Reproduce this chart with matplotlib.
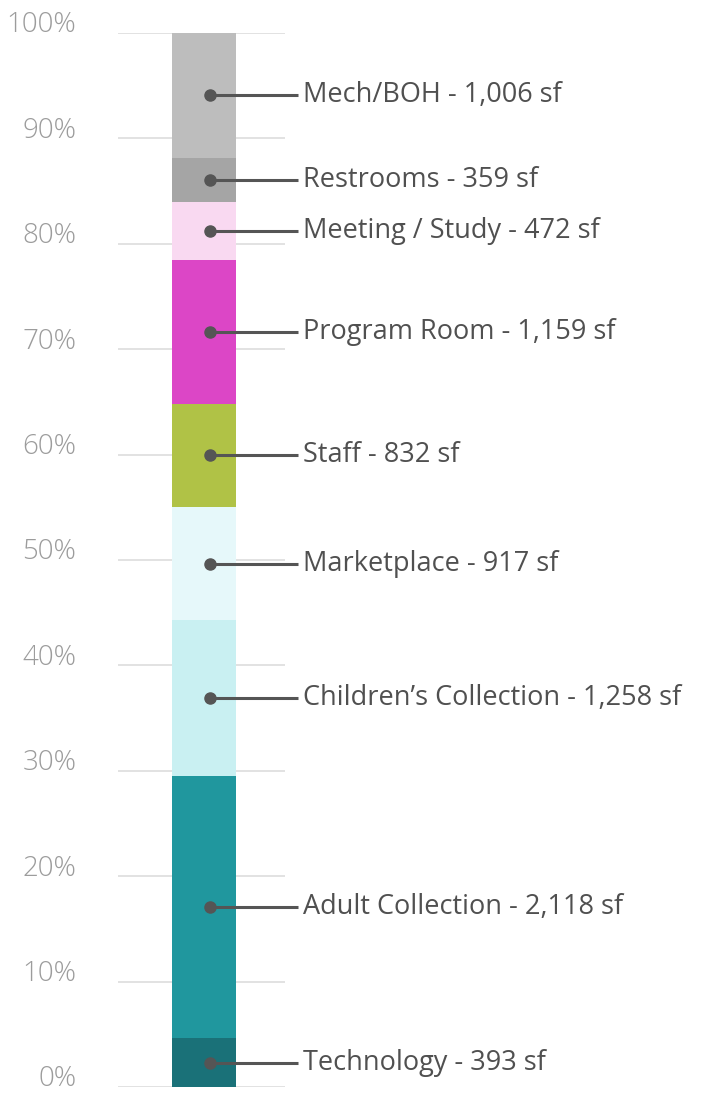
import numpy as np
import matplotlib
matplotlib.use("Agg")
import matplotlib.pyplot as plt

# Space program, bottom to top of the stack
spaces = ["Technology", "Adult Collection", "Children\u2019s Collection", "Marketplace",
          "Staff", "Program Room", "Meeting / Study", "Restrooms", "Mech/BOH"]
area_sf = [393, 2118, 1258, 917, 832, 1159, 472, 359, 1006]
colors = ["#1a7178", "#20979e", "#c9f0f2", "#e6f8fa", "#b0c246",
          "#dc46c6", "#f9d9f1", "#a5a5a5", "#bdbdbd"]
yticks = [0, 10, 20, 30, 40, 50, 60, 70, 80, 90, 100]

FONT = ["Open Sans", "DejaVu Sans"]

W, H = 712, 1093
fig = plt.figure(figsize=(W / 100, H / 100), dpi=100)
fig.patch.set_facecolor("white")

# axes box in pixel terms: gridlines run from x=118 to x=285, 0% at y=1087, 100% at y=33
ax = fig.add_axes([118 / W, (H - 1087) / H, (285 - 118) / W, (1087 - 33) / H])
ax.set_xlim(0, 1)
ax.set_ylim(0, 100)

pct = np.array(area_sf) / np.sum(area_sf) * 100
bottoms = np.concatenate([[0], np.cumsum(pct)[:-1]])

for t in yticks:
    ax.axhline(t, color="#e2e2e2", lw=1.4, zorder=0)
    # percent labels sit a little above their gridline
    ax.annotate(f"{t}%", xy=(0, t), xycoords=("axes fraction", "data"),
                xytext=(-30, 5.5), textcoords="offset points",
                ha="right", va="center", fontsize=20, color="#9c9c9c",
                family=FONT, fontweight="light", annotation_clip=False)

bar_x = (204 - 118) / 167
bar_w = 64 / 167
ax.bar([bar_x] * len(pct), pct, bottom=bottoms, width=bar_w, color=colors,
       linewidth=0, zorder=2)

# leader lines from the middle of each segment out to its label
dot_x = (210 - 118) / 167
line_end = (298 - 118) / 167
text_x = (303 - 118) / 167
for name, sf, b, p in zip(spaces, area_sf, bottoms, pct):
    yc = b + p / 2
    ax.plot([dot_x, line_end], [yc, yc], color="#555555", lw=2.2,
            solid_capstyle="butt", zorder=3, clip_on=False)
    ax.plot(dot_x, yc, "o", color="#555555", ms=8, zorder=4, clip_on=False)
    ax.text(text_x, yc, f"{name} - {sf:,} sf", ha="left", va="center",
            fontsize=19.5, color="#505050", family=FONT, clip_on=False)

ax.set_xticks([])
ax.set_yticks([])
for s in ax.spines.values():
    s.set_visible(False)

fig.savefig("out.png", dpi=100, facecolor="white")
